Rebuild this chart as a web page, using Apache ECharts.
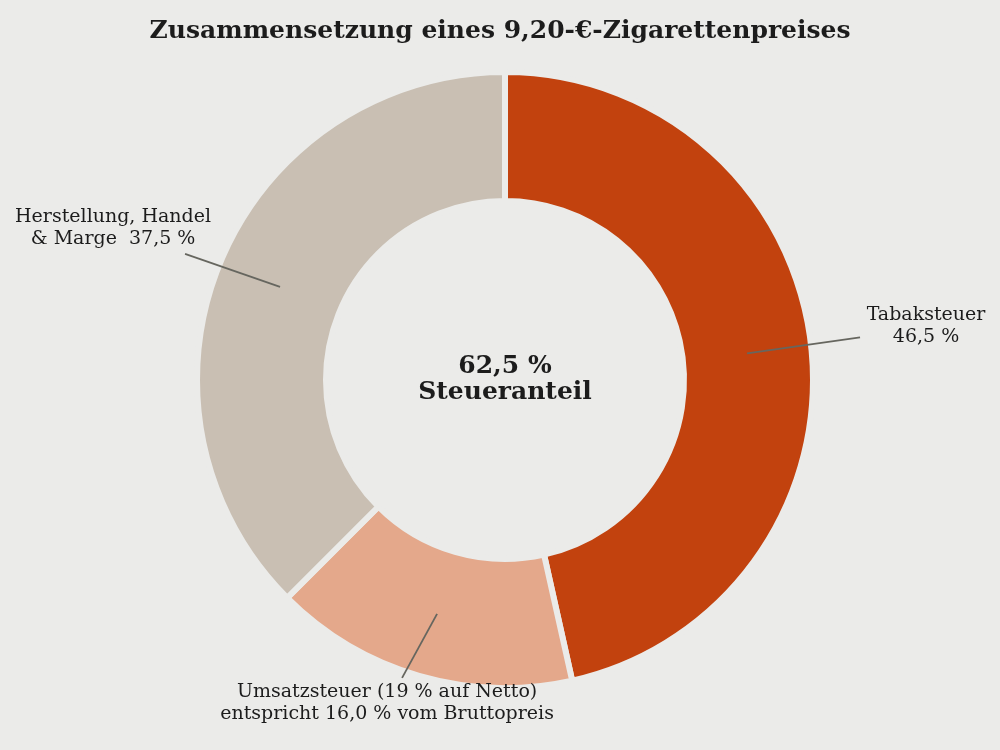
<!DOCTYPE html>
<html><head><meta charset="utf-8">
<script src="https://cdn.jsdelivr.net/npm/echarts@6/dist/echarts.min.js"></script>
<style>html,body{margin:0;padding:0;background:#ebebe9}#c{width:1000px;height:750px}</style>
</head><body><div id="c"></div>
<script>
const categories = ['Tabaksteuer', 'Umsatzsteuer', 'Herstellung, Handel & Marge'];
const shares = [46.5, 16.0, 37.5];
const labelTexts = [
  'Tabaksteuer\n46,5 %',
  'Umsatzsteuer (19 % auf Netto)\nentspricht 16,0 % vom Bruttopreis',
  'Herstellung, Handel\n& Marge  37,5 %'
];
const taxCategories = ['Tabaksteuer', 'Umsatzsteuer'];
const colors = ['#c2420e', '#e4a88b', '#c9bfb3'];
// annotation styling: leader-line direction/length and label offset from the line end
const leaderVec = [[113, -16], [-35, 64], [-95, -33]];
const labelOffset = [[66, -11], [-15, 25], [-72, -26]];

const bg = '#ebebe9';
const font = 'DejaVu Serif';
const taxShare = categories.reduce((s, c, i) => taxCategories.includes(c) ? s + shares[i] : s, 0);
const fmt = v => v.toFixed(1).replace('.', ',');

const data = categories.map((c, i) => ({ name: c, value: shares[i], itemStyle: { color: colors[i] } }));

const chart = echarts.init(document.getElementById('c'));
chart.setOption({
  backgroundColor: bg,
  animation: false,
  title: [
    {
      text: 'Zusammensetzung eines 9,20-€-Zigarettenpreises',
      left: 'center', top: 14,
      textStyle: { fontFamily: font, fontWeight: 'bold', fontSize: 25, color: '#1c1c1c' }
    },
    {
      text: fmt(taxShare) + ' %\nSteueranteil',
      left: 505, top: 379, textAlign: 'center', textVerticalAlign: 'middle',
      padding: 0,
      textStyle: { fontFamily: font, fontWeight: 'bold', fontSize: 25, lineHeight: 26, color: '#1c1c1c' }
    }
  ],
  series: [
    {
      type: 'pie',
      center: [505, 380],
      radius: [179, 308],
      startAngle: 90,
      clockwise: true,
      silent: true,
      z: 2,
      itemStyle: { borderColor: bg, borderWidth: 6 },
      label: { show: false },
      labelLine: { show: false },
      data: data
    },
    {
      type: 'pie',
      center: [505, 380],
      radius: [0, 243.5],
      startAngle: 90,
      clockwise: true,
      silent: true,
      z: 5,
      avoidLabelOverlap: false,
      itemStyle: { color: 'transparent', borderWidth: 0 },
      label: {
        show: true, position: 'outside',
        fontFamily: font, fontSize: 19, lineHeight: 22, color: '#1c1c1c',
        formatter: p => labelTexts[p.dataIndex]
      },
      labelLine: { show: true, length: 5, length2: 0, smooth: false,
        lineStyle: { color: '#66665f', width: 1.8 } },
      labelLayout: function (params) {
        const i = params.dataIndex;
        const s = params.labelLinePoints[0];
        const st = [s[0], s[1]];
        const e = [st[0] + leaderVec[i][0], st[1] + leaderVec[i][1]];
        return {
          x: e[0] + labelOffset[i][0],
          y: e[1] + labelOffset[i][1],
          align: 'center',
          verticalAlign: 'middle',
          labelLinePoints: [st, e, e]
        };
      },
      data: data.map(d => ({ name: d.name, value: d.value }))
    }
  ]
});
</script>
</body></html>
